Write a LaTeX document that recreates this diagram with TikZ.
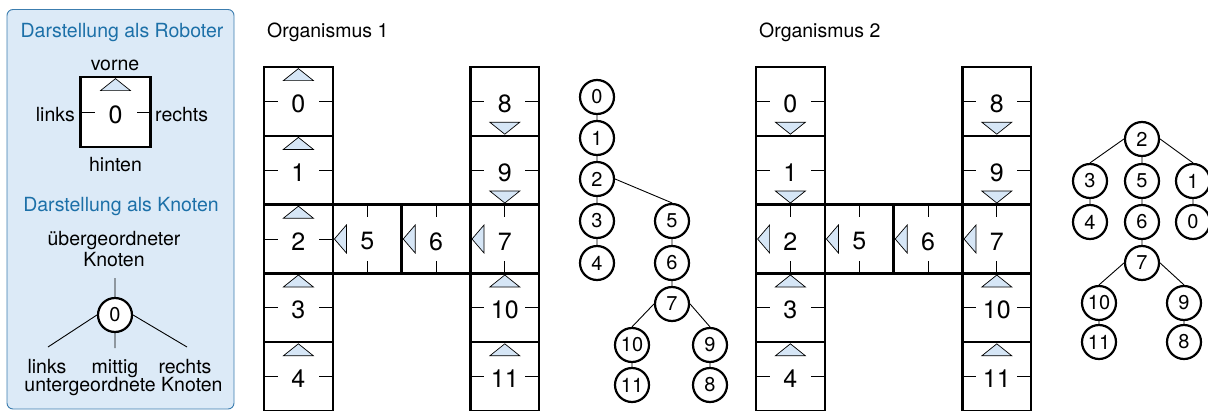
\documentclass[tikz,border=0pt]{standalone}
\usepackage{fontspec}
\setmainfont{TeX Gyre Heros}
\definecolor{panelfill}{RGB}{220,234,247}
\definecolor{panelline}{RGB}{60,125,175}
\definecolor{paneltext}{RGB}{28,112,168}
\definecolor{trifill}{RGB}{214,230,246}

% one robot cell: triangle marks the front, short ticks mark the side connectors
\newcommand\faceup[2]{%
  \draw[tri] ([yshift=-1.6pt]#1.north) -- ++(-15pt,-12pt) -- ++(30pt,0pt) -- cycle;
  \draw[tick] (#1.west) -- ++(14pt,0pt) (#1.east) -- ++(-14pt,0pt);
  \node[cellnum] at ([yshift=-2.5pt]#1.center) {#2};}
\newcommand\facedown[2]{%
  \draw[tri] ([yshift=1.6pt]#1.south) -- ++(-15pt,12pt) -- ++(30pt,0pt) -- cycle;
  \draw[tick] (#1.west) -- ++(14pt,0pt) (#1.east) -- ++(-14pt,0pt);
  \node[cellnum] at ([yshift=-2.5pt]#1.center) {#2};}
\newcommand\faceleft[2]{%
  \draw[tri] ([xshift=1.6pt]#1.west) -- ++(12pt,14pt) -- ++(0pt,-28pt) -- cycle;
  \draw[tick] (#1.north) -- ++(0pt,-12pt) (#1.south) -- ++(0pt,12pt);
  \node[cellnum] at ([yshift=-2.5pt]#1.center) {#2};}

% a whole organism: prefix, left x, list of number/column/row/direction
\newcommand\organism[3]{%
  \foreach \n/\c/\r/\d in {#3} {\node[cell] (#1\n) at ({#2+68.8*\c},{67+68.8*\r}) {};}
  \foreach \n/\c/\r/\d in {#3} {\csname face\d\endcsname{#1\n}{\n}}}

\begin{document}
\begin{tikzpicture}[x=1pt,y=-1pt,
  cell/.style={draw, line width=2.3pt, fill=white, minimum width=68.8pt,
    minimum height=68.8pt, inner sep=0pt, outer sep=0pt, anchor=north west},
  cellnum/.style={font=\fontsize{25}{30}\selectfont, inner sep=0pt},
  tick/.style={line width=0.9pt},
  tri/.style={draw, line width=0.7pt, fill=trifill, line join=miter},
  tnode/.style={circle, draw, line width=2.2pt, minimum size=34pt, inner sep=0pt,
    fill=white, font=\fontsize{20}{23}\selectfont},
  tedge/.style={line width=0.9pt},
  txt/.style={font=\fontsize{19.5}{23}\selectfont, inner sep=0pt, anchor=base},
  ptitle/.style={txt, text=paneltext}]
\useasboundingbox (0,0) rectangle (1208,410);
\clip (0,0) rectangle (1208,410);

% ---------- legend panel ----------
\draw[panelline, fill=panelfill, line width=0.9pt, rounded corners=6pt]
  (7,9.5) rectangle (234,409);
\node[ptitle] (t1) at (122,37) {Darstellung als Roboter};
\node[txt] (lv) at (115,70) {vorne};
\node[cell, minimum width=70pt, minimum height=70pt, anchor=center] (L) at (115.5,112) {};
\faceup{L}{0}
\node[txt, anchor=base east] (ll) at (75,121.7) {links};
\node[txt, anchor=base west] (lr) at (155,121.7) {rechts};
\node[txt] (lh) at (115.5,171.7) {hinten};

\node[ptitle] (t2) at (121,211) {Darstellung als Knoten};
\node[txt] (kp1) at (114,245) {übergeordneter};
\node[txt] (kp2) at (114,266.7) {Knoten};
\node[tnode] (K) at (115,315) {0};
\coordinate (Ktop) at (115,278);
\coordinate (Kl) at (48,347);
\coordinate (Km) at (115,348);
\coordinate (Kr) at (187,347);
\draw[tedge] (Ktop) -- (K.north) (K.west) -- (Kl) (K.south) -- (Km) (K.east) -- (Kr);
\node[txt] (kl) at (47,373) {links};
\node[txt] (km) at (115,373) {mittig};
\node[txt] (kr) at (185,373) {rechts};
\node[txt] (ku) at (123.5,391.7) {untergeordnete Knoten};

% ---------- organism 1 ----------
\node[txt, anchor=base west] (o1) at (267,37) {Organismus 1};
\organism{A}{264}{0/0/0/up, 1/0/1/up, 2/0/2/up, 3/0/3/up, 4/0/4/up,
  5/1/2/left, 6/2/2/left, 7/3/2/left, 8/3/0/down, 9/3/1/down,
  10/3/3/up, 11/3/4/up}

% tree of organism 1
\foreach \n/\x/\y in {0/597/97, 1/597/138, 2/597/179, 3/597/221, 4/597/263,
  5/672/221, 6/672/263, 7/672/304, 10/632/345, 9/710/345, 11/632/385, 8/710/385}
  {\node[tnode] (P\n) at (\x,\y) {\n};}
\draw[tedge] (P0.south) -- (P1.north) (P1.south) -- (P2.north)
  (P2.south) -- (P3.north) (P3.south) -- (P4.north)
  (P2.east) -- (P5.north) (P5.south) -- (P6.north) (P6.south) -- (P7.north)
  (P7.west) -- (P10.north) (P7.east) -- (P9.north)
  (P10.south) -- (P11.north) (P9.south) -- (P8.north);

% ---------- organism 2 ----------
\node[txt, anchor=base west] (o2) at (759,37) {Organismus 2};
\organism{B}{756}{0/0/0/down, 1/0/1/down, 2/0/2/left, 3/0/3/up, 4/0/4/up,
  5/1/2/left, 6/2/2/left, 7/3/2/left, 8/3/0/down, 9/3/1/down,
  10/3/3/up, 11/3/4/up}

% tree of organism 2
\foreach \n/\x/\y in {2/1142/139, 3/1090/181, 5/1142/181, 1/1193/181,
  4/1090/222, 6/1142/222, 0/1193/222, 7/1142/263,
  10/1099/303, 9/1184/303, 11/1099/342, 8/1184/342}
  {\node[tnode] (Q\n) at (\x,\y) {\n};}
\draw[tedge] (Q2.west) -- (Q3.north) (Q2.south) -- (Q5.north) (Q2.east) -- (Q1.north)
  (Q3.south) -- (Q4.north) (Q5.south) -- (Q6.north) (Q1.south) -- (Q0.north)
  (Q6.south) -- (Q7.north)
  (Q7.west) -- (Q10.north) (Q7.east) -- (Q9.north)
  (Q10.south) -- (Q11.north) (Q9.south) -- (Q8.north);
\end{tikzpicture}
\end{document}
